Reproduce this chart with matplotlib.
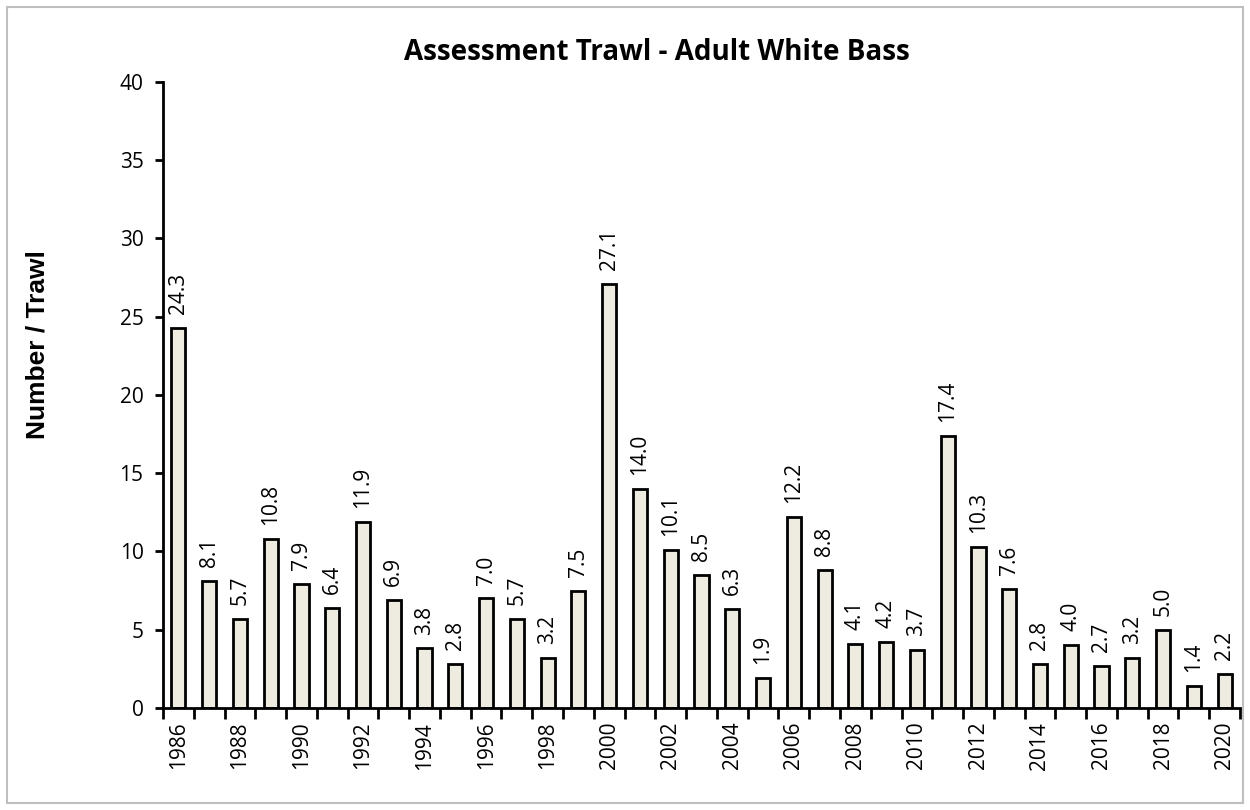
import matplotlib
matplotlib.use("Agg")
from matplotlib import pyplot as plt
from matplotlib.patches import Rectangle
import numpy as np

plt.rcParams['font.family'] = ['Open Sans', 'DejaVu Sans']

# Catch per trawl, one value per year
years = list(range(1986, 2021))
values = [24.3, 8.1, 5.7, 10.8, 7.9, 6.4, 11.9, 6.9, 3.8, 2.8,
          7.0, 5.7, 3.2, 7.5, 27.1, 14.0, 10.1, 8.5, 6.3, 1.9,
          12.2, 8.8, 4.1, 4.2, 3.7, 17.4, 10.3, 7.6, 2.8, 4.0,
          2.7, 3.2, 5.0, 1.4, 2.2]
title = "Assessment Trawl - Adult White Bass"
ylabel = "Number / Trawl"
yticks = [0, 5, 10, 15, 20, 25, 30, 35, 40]

fig = plt.figure(figsize=(12.5, 8.1), dpi=100)
ax = fig.add_axes([0.1304, 0.126, 0.8616, 0.7728])

x = np.arange(len(years))
bars = ax.bar(x, values, width=0.46, color="#EEECE1", edgecolor="black",
              linewidth=2, zorder=2)

# Value labels above each bar
for xi, v in zip(x, values):
    ax.annotate(f"{v:.1f}", (xi, v), xytext=(0, 10), textcoords="offset points",
                rotation=90, ha="center", va="bottom", fontsize=15)

ax.set_xlim(-0.5, len(years) - 0.5)
ax.set_ylim(0, 40)
ax.set_yticks(yticks)
ax.tick_params(axis="y", direction="out", length=6, width=2, labelsize=15, pad=8)

# Labels on every other year, tick marks between categories
ax.set_xticks(x[::2])
ax.set_xticklabels([str(y) for y in years[::2]], rotation=90)
ax.set_xticks(np.arange(len(years) + 1) - 0.5, minor=True)
ax.tick_params(axis="x", which="major", length=0, labelsize=15, pad=10)
ax.tick_params(axis="x", which="minor", direction="out", length=8, width=2)

for side in ["top", "right"]:
    ax.spines[side].set_visible(False)
for side in ["left", "bottom"]:
    ax.spines[side].set_linewidth(2)

fig.text(657 / 1250, 1 - 52 / 810, title, ha="center", va="center",
         fontsize=20, fontweight="bold")
fig.text(38 / 1250, 1 - 345 / 810, ylabel, ha="center", va="center",
         rotation=90, fontsize=19, fontweight="bold",
         family=["Liberation Sans", "DejaVu Sans"])

# Light grey frame round the chart
fig.patches.append(Rectangle((7 / 1250, 7 / 810), 1236 / 1250, 796 / 810,
                             transform=fig.transFigure, fill=False,
                             edgecolor="#BFBFBF", linewidth=1.5))

fig.savefig("out.png", dpi=100)
